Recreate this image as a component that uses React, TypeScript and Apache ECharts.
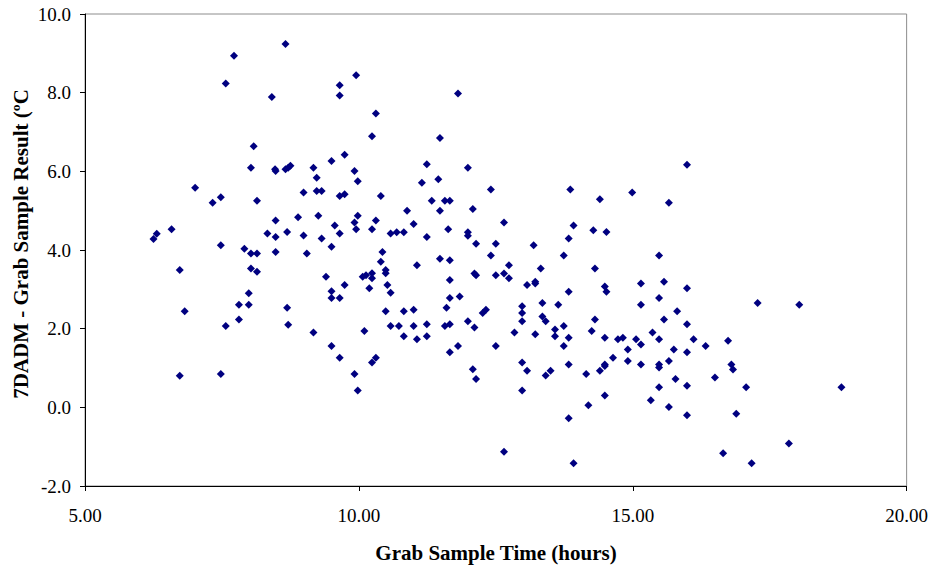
import React, { useEffect, useRef } from "react";
import * as echarts from "echarts";

const xTitle = "Grab Sample Time (hours)";
const yTitle = "7DADM - Grab Sample Result (ºC";

const hours: number[] = [
  7.72, 7.57, 8.08, 8.03, 7.01, 7.33, 7.48, 8.14, 6.58, 6.31, 6.25, 7.48, 7.91, 8.03, 8.14, 6.73, 8.03, 8.14, 7.99, 7.81, 7.99, 6.82, 7.81, 7.57, 6.73, 7.48,
  8.66, 9.95, 9.65, 9.65, 8.41, 10.31, 10.24, 9.74, 9.5, 8.47, 8.48, 8.66, 8.71, 8.75, 9.17, 9.23, 9.92, 9.98, 8.99, 9.23, 9.32, 9.65, 9.74, 10.4,
  8.48, 8.89, 9.26, 9.98, 9.92, 10.31, 9.56, 8.33, 8.48, 8.69, 8.99, 9.65, 9.95, 10.24, 10.58, 9.32, 9.5, 8.48, 9.05, 10.43, 10.4, 10.49, 10.49,
  10.07, 10.13, 10.24, 10.24, 9.4, 9.74, 9.5, 9.5, 9.65, 10.19, 10.52, 10.58, 10.49, 8.69, 8.71, 9.17, 10.1, 10.58, 9.5, 9.65, 10.31, 10.24, 9.92, 9.98,
  11.81, 11.48, 11.24, 11.99, 11.15, 11.45, 12.41, 11.33, 11.57, 11.66, 11.48, 12.08, 10.88, 11.0, 10.69, 10.82, 11.24, 11.63, 11.99, 11.99, 12.14,
  12.65, 12.5, 12.41, 11.48, 11.66, 11.06, 12.74, 12.11, 12.14, 12.5, 12.65, 12.74, 11.66, 11.66, 11.84, 11.6, 10.82, 11.0, 12.26, 12.32, 10.73,
  11.0, 11.24, 11.57, 11.66, 11.99, 12.11, 12.84, 10.82, 11.06, 11.24, 11.66, 11.81, 12.5, 12.08, 12.14, 12.65,
  13.86, 14.4, 14.99, 13.92, 14.28, 14.52, 13.83, 13.19, 13.74, 13.32, 14.31, 13.07, 13.22, 13.22, 13.83, 14.49, 14.52, 15.15, 12.98, 13.35, 13.64,
  15.15, 12.98, 13.35, 13.41, 12.98, 14.31, 13.58, 13.58, 13.74, 14.25, 13.22, 13.83, 14.49, 14.73, 14.82, 15.06, 15.15, 13.74, 14.91, 14.64, 14.91,
  12.98, 13.83, 14.49, 14.49, 15.15, 13.07, 13.5, 13.41, 14.15, 14.4, 12.98, 14.49, 14.19, 13.83, 13.92,
  15.99, 15.66, 15.48, 15.57, 15.99, 15.48, 17.28, 15.81, 15.57, 15.99, 15.36, 15.48, 16.11, 16.33, 16.74, 15.75, 15.99, 15.66, 15.48, 15.48, 16.8,
  16.83, 15.78, 15.99, 16.5, 17.07, 15.48, 15.33, 15.66, 15.99, 16.89, 16.65, 17.17,
  18.04, 18.81, 17.85,
];

const results: number[] = [
  8.94, 8.23, 6.64, 6.09, 5.58, 5.2, 5.34, 5.25, 4.53, 4.41, 4.28, 4.12, 4.03, 3.91, 3.91, 3.49, 3.53, 3.45, 2.9, 2.61, 2.61, 2.44, 2.23, 2.07, 0.8, 0.85,
  9.24, 8.44, 8.19, 7.93, 7.89, 7.47, 6.89, 6.42, 6.26, 6.05, 6.01, 6.05, 6.09, 6.14, 6.09, 5.84, 6.01, 5.75, 5.46, 5.5, 5.5, 5.37, 5.42, 5.37,
  4.75, 4.83, 4.87, 4.87, 4.7, 4.75, 4.62, 4.42, 4.33, 4.46, 4.37, 4.42, 4.53, 4.53, 4.42, 4.29, 4.08, 3.95, 3.91, 3.95, 3.7, 3.49, 3.41,
  3.32, 3.36, 3.41, 3.28, 3.32, 3.11, 2.95, 2.78, 2.78, 3.03, 3.11, 2.91, 2.44, 2.53, 2.1, 1.9, 1.94, 2.07, 1.56, 1.26, 1.26, 1.14, 0.85, 0.43,
  7.98, 6.85, 6.18, 6.09, 5.71, 5.8, 5.54, 5.25, 5.25, 5.25, 5.0, 5.04, 5.0, 4.66, 4.45, 4.45, 4.33, 4.53, 4.45, 4.36, 4.16,
  4.7, 4.16, 3.86, 3.78, 3.74, 3.61, 3.61, 3.4, 3.36, 3.36, 3.4, 3.28, 3.24, 2.78, 2.82, 2.53, 2.44, 2.48, 2.4, 2.48, 2.07,
  2.07, 2.11, 2.07, 2.11, 2.19, 2.03, 1.9, 1.81, 1.73, 1.81, 1.4, 1.56, 1.56, 0.97, 0.72, -1.13,
  5.54, 5.29, 5.46, 4.62, 4.5, 4.46, 4.29, 4.12, 3.86, 3.53, 3.53, 3.11, 3.19, 3.15, 2.94, 3.07, 2.94, 3.15, 2.57, 2.65, 2.61,
  2.61, 2.4, 2.31, 2.19, 2.19, 2.23, 1.98, 1.81, 2.07, 1.94, 1.86, 1.77, 1.77, 1.73, 1.77, 1.73, 1.6, 1.56, 1.47, 1.26, 1.18,
  1.14, 1.09, 1.09, 1.05, 1.09, 0.93, 0.93, 0.81, 0.85, 0.93, 0.43, 0.3, 0.05, -0.28, -1.42,
  6.17, 5.2, 3.86, 3.19, 3.03, 2.78, 2.65, 2.44, 2.23, 2.11, 1.9, 1.73, 1.73, 1.56, 1.69, 1.47, 1.4, 1.18, 1.09, 1.01, 1.09,
  0.96, 0.72, 0.55, 0.76, 0.51, 0.51, 0.18, 0.01, -0.2, -0.16, -1.17, -1.42,
  2.61, 0.51, -0.92,
];

const FONT = "'Liberation Serif', 'Times New Roman', serif";

export default function App() {
  const ref = useRef<HTMLDivElement>(null);
  useEffect(() => {
    if (!ref.current) return;
    const chart = echarts.init(ref.current, undefined, { renderer: "svg" });
    const n = Math.min(hours.length, results.length);
    const data: number[][] = [];
    for (let i = 0; i < n; i++) data.push([hours[i], results[i]]);
    chart.setOption({
      animation: false,
      backgroundColor: "#ffffff",
      grid: {
        left: 85,
        right: 24,
        top: 14,
        bottom: 83,
        show: true,
        borderColor: "#8c8c8c",
        borderWidth: 1,
        backgroundColor: "transparent",
      },
      graphic: [
        {
          type: "text",
          x: 496,
          y: 553,
          style: {
            text: xTitle,
            font: "bold 21px " + FONT,
            fill: "#000",
            textAlign: "center",
            textVerticalAlign: "middle",
          },
        },
        {
          type: "text",
          x: 21,
          y: 244,
          rotation: Math.PI / 2,
          style: {
            text: yTitle,
            font: "bold 21px " + FONT,
            fill: "#000",
            textAlign: "center",
            textVerticalAlign: "middle",
          },
        },
      ],
      xAxis: {
        type: "value",
        min: 5,
        max: 20,
        interval: 5,
        axisLine: { show: true, onZero: false, lineStyle: { color: "#000", width: 1 } },
        axisTick: { show: true, inside: false, length: 5, lineStyle: { color: "#000" } },
        axisLabel: {
          margin: 20,
          fontFamily: FONT,
          fontSize: 19,
          color: "#000",
          formatter: (v: number) => v.toFixed(2),
        },
        splitLine: { show: false },
      },
      yAxis: {
        type: "value",
        min: -2,
        max: 10,
        interval: 2,
        axisLine: { show: true, onZero: false, lineStyle: { color: "#000", width: 1 } },
        axisTick: { show: true, inside: false, length: 5, lineStyle: { color: "#000" } },
        axisLabel: {
          margin: 14,
          fontFamily: FONT,
          fontSize: 19,
          color: "#000",
          formatter: (v: number) => v.toFixed(1),
        },
        splitLine: { show: false },
      },
      series: [
        {
          type: "scatter",
          data,
          symbol: "diamond",
          symbolSize: 8,
          itemStyle: { color: "#000080", opacity: 1 },
        },
      ],
    });
    return () => chart.dispose();
  }, []);
  return (
    <div
      ref={ref}
      style={{ position: "fixed", left: 0, top: 0, width: 931, height: 569 }}
    />
  );
}
